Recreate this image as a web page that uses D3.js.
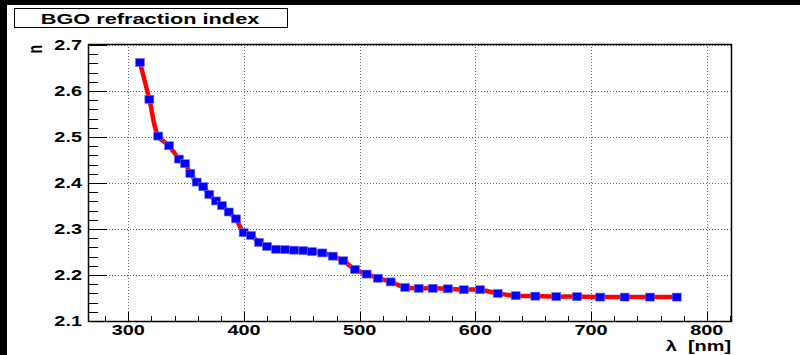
<!DOCTYPE html>
<html><head><meta charset="utf-8">
<script src="https://cdn.jsdelivr.net/npm/d3@7"></script>
<style>html,body{margin:0;padding:0;background:#fff;}svg{display:block;} text{white-space:pre;}</style>
</head><body>
<svg id="c" width="800" height="355"></svg>
<script>
const title = "BGO refraction index";
const xTitle = "\u03bb  [nm]";
const yTitle = "n";
const wavelength = [310.1,318.2,325.9,335.2,343.8,349.0,353.6,359.1,364.8,370.0,375.8,381.0,386.8,393.1,399.7,406.1,413.0,419.9,427.7,435.4,443.2,451.3,458.8,467.7,476.7,485.8,495.9,506.0,515.8,526.8,539.2,551.0,563.1,576.1,589.9,604.0,619.3,634.8,651.8,669.9,687.8,707.9,729.0,750.9,774.0];
const nIndex = [2.662,2.582,2.502,2.481,2.452,2.442,2.421,2.402,2.392,2.375,2.361,2.351,2.337,2.322,2.292,2.286,2.271,2.262,2.256,2.255,2.254,2.253,2.251,2.248,2.241,2.231,2.212,2.202,2.193,2.185,2.173,2.171,2.171,2.170,2.168,2.168,2.160,2.155,2.154,2.153,2.153,2.152,2.152,2.152,2.152];
const xTicks = [300,400,500,600,700,800];
const yTicks = [2.1,2.2,2.3,2.4,2.5,2.6,2.7];

const svg = d3.select("#c");
const W = 800, H = 355;
const L = 88, R = 731, T = 44, B = 321;
const SX = 1.42;
const font = "'Liberation Sans', Arial, Helvetica, sans-serif";

svg.append("rect").attr("width", W).attr("height", H).attr("fill", "#fff");
svg.append("rect").attr("x",0).attr("y",0).attr("width",W).attr("height",5).attr("fill","#000");
svg.append("rect").attr("x",0).attr("y",0).attr("width",7).attr("height",H).attr("fill","#000");

const x = d3.scaleLinear().domain([300 - (128.3 - L)/1.157, 300 + (R - 128.3)/1.157]).range([L, R]);
const y = d3.scaleLinear().domain([2.1, 2.7]).range([B, 45]);

function stext(g, px, py, str, size, anchor, sx) {
  const gg = g.append("g").attr("transform", `translate(${px},${py})`);
  return gg.append("text").attr("transform", `scale(${sx||SX},1)`)
    .attr("text-anchor", anchor).attr("font-family", font).attr("font-weight", "bold")
    .attr("font-size", size).attr("fill", "#000").attr("xml:space", "preserve").text(str);
}

// grid
const grid = svg.append("g").attr("stroke", "#666").attr("stroke-width", 1).attr("stroke-dasharray", "1,2");
xTicks.forEach(v => { const px = Math.round(x(v)) + 0.5;
  grid.append("line").attr("x1", px).attr("x2", px).attr("y1", T).attr("y2", B); });
yTicks.forEach(v => { const py = Math.round(y(v)) + 0.5;
  grid.append("line").attr("x1", L).attr("x2", R).attr("y1", py).attr("y2", py); });

// ticks
const tk = svg.append("g").attr("stroke", "#000").attr("stroke-width", 1);
d3.range(280, 821, 20).forEach(v => {
  if (x(v) < L || x(v) > R) return;
  const major = v % 100 === 0;
  const px = Math.round(x(v)) + 0.5;
  tk.append("line").attr("x1", px).attr("x2", px).attr("y1", B).attr("y2", B - (major ? 9 : 5));
});
d3.range(0, 31).forEach(i => {
  const v = 2.1 + i * 0.02;
  const major = i % 5 === 0;
  const py = Math.round(y(v)) + 0.5;
  tk.append("line").attr("x1", L).attr("x2", L + (major ? 19 : 10)).attr("y1", py).attr("y2", py);
});

// frame
svg.append("rect").attr("x", L + 0.5).attr("y", T + 0.5).attr("width", R - L).attr("height", B - T)
  .attr("fill", "none").attr("stroke", "#000").attr("stroke-width", 1.5);

// labels
xTicks.forEach(v => stext(svg, x(v), 335, String(v), 14, "middle"));
yTicks.forEach(v => stext(svg, 82, y(v) + 5, v.toFixed(1), 14, "end"));
stext(svg, R, 351, xTitle, 14, "end");
svg.append("g").attr("transform", `translate(42,45) rotate(-90)`)
  .append("text").attr("text-anchor", "end").attr("font-family", font).attr("font-weight", "bold")
  .attr("font-size", 14).attr("transform", `scale(1,${SX})`).text(yTitle);

// data
const pts = wavelength.map((w, i) => [w, nIndex[i]]);
const line = d3.line().x(d => x(d[0])).y(d => y(d[1])).curve(d3.curveCatmullRom.alpha(0.5));
svg.append("path").attr("d", line(pts)).attr("fill", "none").attr("stroke", "#ff0000").attr("stroke-width", 4.5)
  .attr("stroke-linejoin", "round");
svg.append("g").selectAll("rect").data(pts).join("rect")
  .attr("x", d => x(d[0]) - 4.5).attr("y", d => y(d[1]) - 4).attr("width", 9).attr("height", 8)
  .attr("fill", "#0000ff").attr("stroke", "#6f6fff").attr("stroke-width", 0.6);

// title box
svg.append("rect").attr("x", 14.5).attr("y", 8.5).attr("width", 273).attr("height", 19)
  .attr("fill", "#fff").attr("stroke", "#000").attr("stroke-width", 1);
stext(svg, 150, 24, title, 15, "middle", 1.45);
</script>
</body></html>
